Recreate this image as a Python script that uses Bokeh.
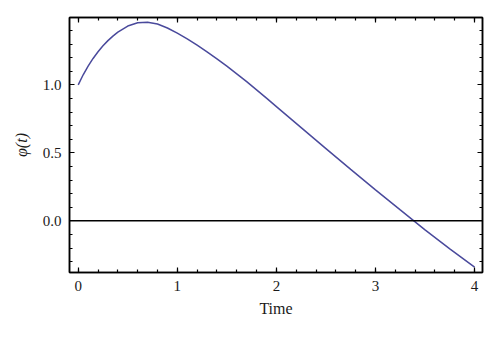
from bokeh.plotting import figure
from bokeh.models import LinearAxis, Span, Range1d, FixedTicker, PrintfTickFormatter
from bokeh.embed import file_html
from bokeh.resources import INLINE

t_vals = [0.0, 0.05, 0.1, 0.15, 0.2, 0.25, 0.3, 0.35, 0.4, 0.5, 0.6, 0.7, 0.8,
          0.9, 1.0, 1.1, 1.2, 1.3, 1.4, 1.5, 1.6, 1.7, 1.8, 1.9, 2.0, 2.25,
          2.5, 2.75, 3.0, 3.25, 3.5, 3.75, 4.0]
phi_vals = [1.0, 1.074, 1.138, 1.194, 1.243, 1.287, 1.325, 1.358, 1.387, 1.432,
            1.456, 1.460, 1.447, 1.418, 1.380, 1.338, 1.292, 1.243, 1.191,
            1.137, 1.081, 1.023, 0.963, 0.902, 0.840, 0.685, 0.531, 0.378,
            0.228, 0.080, -0.066, -0.206, -0.341]
x_major = [0, 1, 2, 3, 4]
y_major = [0.0, 0.5, 1.0]
x_minor = [round(i * 0.2, 1) for i in range(0, 21)]
y_minor = [round(-0.3 + i * 0.1, 1) for i in range(0, 18)]

FONT = "Liberation Serif"

p = figure(width=500, height=338, output_backend="svg", toolbar_location=None,
           x_range=Range1d(-0.088, 4.08), y_range=Range1d(-0.38, 1.495),
           min_border_left=69, min_border_right=18, min_border_top=17,
           min_border_bottom=66, x_axis_label="Time", y_axis_label="φ(t)")
p.background_fill_color = "white"
p.border_fill_color = "white"
p.grid.visible = False
p.outline_line_color = "black"
p.outline_line_width = 1.5

def style(ax, ticks, minor, labels=True):
    ax.ticker = FixedTicker(ticks=ticks, minor_ticks=minor)
    ax.axis_line_color = "black"
    ax.axis_line_width = 1.5
    ax.major_tick_in = 5
    ax.major_tick_out = 0
    ax.minor_tick_in = 3
    ax.minor_tick_out = 0
    ax.major_tick_line_width = 1.2
    ax.minor_tick_line_width = 1.2
    ax.major_label_text_font = FONT
    ax.major_label_text_font_size = "15px"
    ax.major_label_text_color = "#1a1a1a"
    ax.axis_label_text_font = FONT
    ax.axis_label_text_font_size = "16px"
    ax.axis_label_text_font_style = "normal"
    ax.axis_label_text_color = "#1a1a1a"
    if not labels:
        ax.major_label_text_font_size = "0px"
        ax.major_label_text_alpha = 0

style(p.xaxis[0], x_major, x_minor)
style(p.yaxis[0], y_major, y_minor)
p.xaxis[0].major_label_standoff = 8
p.yaxis[0].major_label_standoff = 8
p.xaxis[0].axis_label_standoff = 6
p.yaxis[0].axis_label_standoff = 10
p.yaxis[0].axis_label_text_font_style = "italic"
p.yaxis[0].formatter = PrintfTickFormatter(format="%.1f")

top = LinearAxis()
style(top, x_major, x_minor, labels=False)
top.major_label_standoff = 0
p.add_layout(top, "above")
right = LinearAxis()
style(right, y_major, y_minor, labels=False)
right.major_label_standoff = 0
p.add_layout(right, "right")

p.add_layout(Span(location=0, dimension="width", line_color="black", line_width=1.5))
p.line(t_vals, phi_vals, line_color="#4a4a9c", line_width=1.5)

open("out.html", "w").write(file_html(p, INLINE))
